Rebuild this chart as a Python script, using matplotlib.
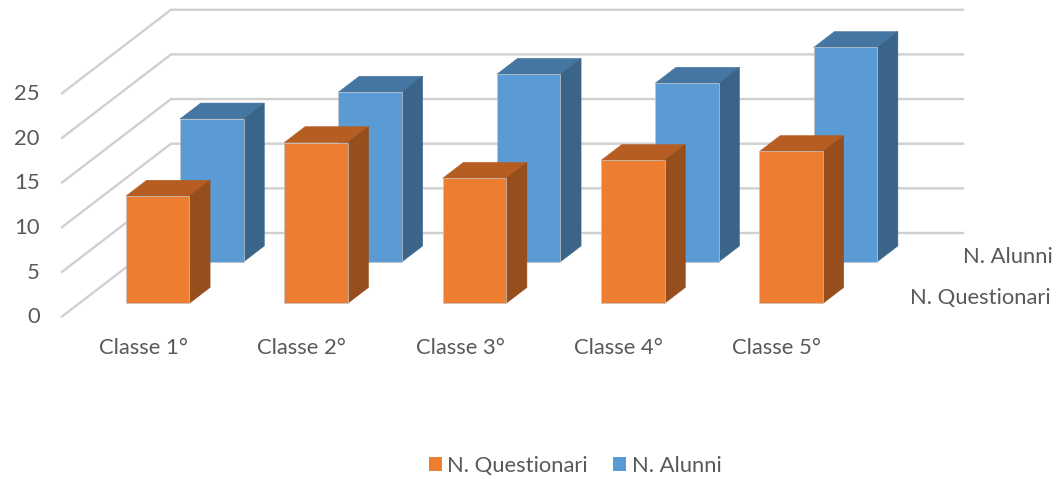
import matplotlib
matplotlib.use("Agg")

import matplotlib.pyplot as plt
from matplotlib.patches import Patch, Polygon

categories = ["Classe 1°", "Classe 2°", "Classe 3°", "Classe 4°", "Classe 5°"]
series_names = ["N. Questionari", "N. Alunni"]
questionari = [12, 18, 14, 16, 17]
alunni = [16, 19, 21, 20, 24]
y_ticks = [0, 5, 10, 15, 20, 25]

TEXT = "#595959"
GRID = "#D0D0D0"
ORANGE = ("#ED7D31", "#B55D22", "#974E1D")
BLUE = ("#5B9BD5", "#4575A1", "#3A6589")
FONT = 15.8

plt.rcParams["font.family"] = ["Lato", "DejaVu Sans"]

# oblique projection, in figure pixels
X0, Y0 = 62.0, 316.5
DX, DY = 109.0, 83.5
UNIT = 8.93
STEP = 158.4
BAR_W = 63.5 / STEP
GAP = (1 - BAR_W) / 2 - 0.005
BAR_D = 0.19


def proj(cat, value, depth):
    return X0 + cat * STEP + DX * depth, Y0 - value * UNIT - DY * depth


def draw_bar(ax, i, value, depth, colors):
    a, b = i + GAP, i + GAP + BAR_W
    d1 = depth + BAR_D
    front = [proj(a, 0, depth), proj(b, 0, depth), proj(b, value, depth), proj(a, value, depth)]
    top = [proj(a, value, depth), proj(b, value, depth), proj(b, value, d1), proj(a, value, d1)]
    side = [proj(b, 0, depth), proj(b, 0, d1), proj(b, value, d1), proj(b, value, depth)]
    for pts, c in zip((top, side), colors[1:]):
        ax.add_patch(Polygon(pts, closed=True, facecolor=c, edgecolor=c, linewidth=0.4, joinstyle="miter"))
    ax.add_patch(Polygon(front, closed=True, facecolor=colors[0], edgecolor="#C4C4C4", linewidth=0.5, joinstyle="miter"))


fig = plt.figure(figsize=(10.59, 4.79), dpi=100)
ax = fig.add_axes([0, 0, 1, 1])
ax.set_xlim(0, 1059)
ax.set_ylim(479, 0)
ax.axis("off")

for v in y_ticks:
    x1, y1 = proj(0, v, 0)
    x2, y2 = proj(0, v, 1)
    x3, y3 = proj(len(categories), v, 1)
    ax.plot([x1, x2, x3], [y1, y2, y3], color=GRID, linewidth=1.7, solid_joinstyle="miter", zorder=1)
    ax.text(x1 - 22.5, y1 + 0.7, str(v), ha="right", va="center", color=TEXT, fontsize=FONT)

for i, v in enumerate(alunni):
    draw_bar(ax, i, v, 0.655, BLUE)
for i, v in enumerate(questionari):
    draw_bar(ax, i, v, 0.158, ORANGE)

for i, name in enumerate(categories):
    x, y = proj(i + 0.5, 0, 0)
    ax.text(x + 2, y + 31, name, ha="center", va="center", color=TEXT, fontsize=FONT)

ax.text(1053, 257, series_names[1], ha="right", va="center", color=TEXT, fontsize=FONT)
ax.text(1051, 298, series_names[0], ha="right", va="center", color=TEXT, fontsize=FONT)

handles = [Patch(facecolor=ORANGE[0], label=series_names[0]), Patch(facecolor=BLUE[0], label=series_names[1])]
ax.legend(
    handles=handles,
    loc="center",
    bbox_to_anchor=(575 / 1059, 1 - 466 / 479),
    ncol=2,
    frameon=False,
    fontsize=FONT,
    labelcolor=TEXT,
    handlelength=0.6,
    handleheight=0.6,
    handletextpad=0.25,
    columnspacing=1.15,
)

fig.savefig("out.png", dpi=100)
plt.close(fig)
